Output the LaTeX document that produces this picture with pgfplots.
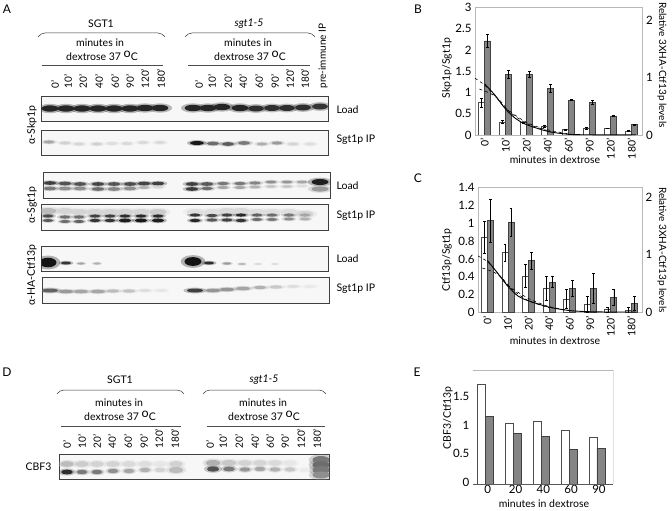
\documentclass[border=0pt]{standalone}
\usepackage{fontspec}
\setmainfont{Lato}
\usepackage{pgfplots}
\usepackage{pgfplotstable}
\pgfplotsset{compat=1.18}

% image pixels = pt here, y measured from the top in the scope below
\newcommand{\fs}{\fontsize{10.5}{12}\selectfont}
\newcommand{\tfs}{\fontsize{11.5}{13}\selectfont}
\newcommand{\degC}{\raisebox{3.5pt}{\fontsize{12.5}{12}\selectfont o}C}
\definecolor{barg}{gray}{0.52}
\definecolor{frameg}{gray}{0.72}

% --- panel B
\pgfplotstableread{
x w we g ge
0 0.76 0.10 2.21 0.15
1 0.31 0.04 1.43 0.10
2 0.29 0.02 1.42 0.07
3 0.21 0.02 1.10 0.10
4 0.13 0.01 0.82 0.01
5 0.16 0.02 0.77 0.04
6 0.16 0.01 0.45 0.01
7 0.09 0.01 0.24 0.01
}\tabB
% --- panel C
\pgfplotstableread{
x w we g ge
0 0.84 0.18 1.03 0.24
1 0.67 0.10 1.01 0.16
2 0.41 0.13 0.58 0.10
3 0.27 0.13 0.34 0.06
4 0.15 0.11 0.27 0.09
5 0.085 0.09 0.27 0.17
6 0.03 0.03 0.17 0.09
7 0.02 0.04 0.10 0.08
}\tabC
% --- panel E
\pgfplotstableread{
x w g
0 1.75 1.19
1 1.07 0.89
2 1.10 0.83
3 0.94 0.61
4 0.82 0.63
}\tabE

% --- blots: lane x, band y (image pixels), darkness, half height
\pgfplotstableread{
x y d s
50 108.5 .92 3.2
66 108.5 .92 3.2
82 108.5 .92 3.2
98 108.5 .92 3.2
114 108.5 .92 3.2
130 108.5 .92 3.2
145 108 .92 3.2
160 108 .92 3.2
193 108 .92 3.2
208 108 .92 3.2
222 107 .92 3.2
240 108 .92 3.2
256 108.5 .88 3
272 108 .88 3
287 108 .88 3
303 107.5 .88 3
320 106.5 .85 3
}\blotA
\pgfplotstableread{
x y d s
49 142 .35 1.6
65 143 .16 1.6
79 144 .13 1.6
97 144 .16 1.6
112 143.5 .1 1.6
127 143.5 .12 1.6
143 142.5 .12 1.6
160 142.5 .12 1.6
197 143 .98 2
213 143.5 .6 1.8
228 144 .68 1.8
244 143 .55 1.8
262 144 .3 1.6
277 143 .4 1.6
293 144 .14 1.6
310 144 .1 1.6
}\blotB
\pgfplotstableread{
x y d s
50 183 .8 1.8
65 183.5 .72 1.8
80 184 .72 1.8
98 184 .78 1.8
114 184 .72 1.8
130 184 .75 1.8
144 183.5 .78 1.8
158 183.5 .8 1.8
50 188.5 .55 1.8
65 188.5 .45 1.8
80 188.5 .45 1.8
98 189 .6 1.8
114 189 .5 1.8
130 188.5 .45 1.8
144 187.5 .3 1.5
158 187 .15 1.5
192 184 .8 1.8
207 184 .7 1.8
223 183.5 .55 1.6
240 183.5 .55 1.6
255 183 .5 1.6
271 182 .45 1.5
287 182 .42 1.5
302 182 .35 1.5
192 189 .82 1.8
207 188.5 .6 1.6
223 187.5 .35 1.5
240 187.5 .35 1.5
255 187 .3 1.5
271 186.5 .2 1.5
287 186.5 .2 1.5
302 186 .1 1.5
320 182 .95 3
320 189 .4 2.6
}\blotC
\pgfplotstableread{
x y d s
48 211 .25 3
65 211 .14 3
79 212 .14 3
95 212 .14 3
110 212 .14 3
125 212 .14 3
141 212 .14 3
158 212 .18 3
195 212 .1 3
212 212 .1 3
227 211 .12 3
241 211 .12 3
257 212 .1 3
272 212 .1 3
289 212 .1 3
305 214 .15 3
48 216 .75 1.6
65 217 .6 1.6
79 217 .6 1.6
95 216 .8 1.6
110 216 .8 1.6
125 216 .88 1.6
141 216 .9 1.6
158 216 .9 1.6
48 220.5 .68 1.5
65 221.5 .6 1.5
79 221.5 .65 1.5
95 220.5 .85 1.6
110 220.5 .85 1.6
125 220.5 .95 1.8
141 220.5 .98 1.8
158 220.5 .95 1.8
195 215 .85 1.6
212 215.5 .75 1.6
227 215 .8 1.6
241 215 .9 1.6
257 215 .65 1.6
272 215 .6 1.6
289 215 .55 1.6
305 215 .35 1.6
195 220.5 .9 1.6
212 220 .7 1.6
227 220 .8 1.6
241 220.5 .85 1.6
257 219.5 .6 1.5
272 219.5 .55 1.5
289 219 .45 1.5
305 219 .3 1.5
}\blotD
\pgfplotstableread{
x y d s
48 262.5 1 4.8
66 263 .85 1.5
81 263.5 .35 1.1
97 263.5 .3 1.1
193 261.5 1 4.4
209 263 .88 1.5
227 263.5 .4 1.2
242 264 .25 1.1
258 264 .12 1
275 264 .1 1
}\blotE
\pgfplotstableread{
x y d s
50 290.5 .65 2
66 291.5 .4 1.8
81 291.5 .35 1.8
98 291.5 .35 1.8
113 291 .25 1.6
129 291 .22 1.6
145 290.5 .1 1.5
161 290.5 .06 1.5
195 290.5 .8 2
213 290.5 .42 1.8
227 289.5 .42 1.8
243 288.5 .35 1.8
260 287.5 .3 1.6
276 287 .2 1.6
293 286.5 .1 1.5
310 286.5 .05 1.5
}\blotF
\pgfplotstableread{
x y d s
67 464 .25 2.8
82 464 .18 2.8
97 464 .15 2.8
113 464 .15 2.8
129 464 .12 2.8
145 464 .1 2.8
160 464 .06 2.8
176 464 .16 2.8
213 463 .3 3
229 463 .2 3
245 463 .15 2.8
260 463 .14 2.8
275 463 .12 2.8
290 463 .06 2.8
321 460 .55 4
321 465 .6 4
67 472 .88 2.4
82 472 .55 2.2
97 472 .55 2.2
113 471 .45 2.2
129 471 .35 2.2
145 470 .3 2.2
160 470 .15 2.2
176 470 .25 3
213 469 .72 2.6
229 469 .55 2.4
245 469.5 .42 2.2
260 469 .35 2.2
275 469.5 .3 2.2
290 469.5 .2 2.2
305 470 .04 2.2
321 470 .55 4
321 475 .45 3.5
}\blotG

\pgfplotsset{
  blot/.style={scale only axis, ticks=none, y dir=reverse, anchor=north west,
    clip marker paths=true,
    axis line style={black!75, line width=0.9pt},
    axis background/.style={fill=black!3},
    colormap={blot}{gray(0cm)=(0.96); gray(1cm)=(0.08)},
    point meta min=0, point meta max=1},
  chart/.style={scale only axis, anchor=north west,
    axis line style={frameg, line width=0.5pt},
    tick style={draw=none}, major tick length=0pt,
    tick label style={font=\tfs, /pgf/number format/assume math mode=true},
    ybar=0pt, bar width=6pt,
    xmin=-0.46, xmax=7.52, xtick={0,...,7},
    xticklabels={0',10',20',40',60',90',120',180'},
    xticklabel style={rotate=90, anchor=east, font=\fs},
    ymin=0},
  rightax/.style={scale only axis, anchor=north west, axis y line*=right, axis x line=none,
    axis line style={frameg, line width=0.5pt},
    tick style={draw=none}, major tick length=0pt,
    tick label style={font=\tfs, /pgf/number format/assume math mode=true},
    xmin=-0.46, xmax=7.52, ymin=0, ytick={0,1,2}},
  wbar/.style={fill=white, draw=black!70, line width=0.6pt},
  gbar/.style={fill=barg, draw=black!75, line width=0.6pt},
  errs/.style={error bars/.cd, y dir=both, y explicit,
    error bar style={black, line width=0.5pt},
    error mark options={black, line width=0.5pt, mark size=1.4pt, rotate=90}},
  band/.style args={#1/#2/#3}{scatter, only marks, mark=*, point meta=explicit,
    visualization depends on={#1*\thisrow{s}\as\ms},
    visualization depends on={min(#2,8.5/\thisrow{s})\as\xs},
    scatter/use mapped color={draw=mapped color, fill=mapped color},
    scatter/@pre marker code/.append style={/tikz/mark size=\ms pt, /tikz/xscale=\xs},
    mark options={line width=0pt, draw opacity=0, fill opacity=#3}},
}

\newcommand{\blotpanel}[6]{% x0 x1 y0 y1 table xscale
  \pgfmathsetmacro{\bw}{#2-#1}\pgfmathsetmacro{\bh}{#4-#3}
  \begin{axis}[blot, at={(#1pt,-#3pt)}, width=\bw pt, height=\bh pt,
      xmin=#1, xmax=#2, ymin=#3, ymax=#4]
    \addplot[band=1.45/#6/0.3] table[x=x, y=y, meta=d] {#5};
    \addplot[band=1/#6/1] table[x=x, y=y, meta=d] {#5};
  \end{axis}
}

\begin{document}
\begin{tikzpicture}
\path[use as bounding box] (0,0) rectangle (672pt,-511pt);

% blots
\blotpanel{41.6}{328}{96}{121}{\blotA}{2.6}
\blotpanel{41.6}{328}{130}{155.6}{\blotB}{3.4}
\blotpanel{43}{330}{172.6}{198}{\blotC}{3.6}
\blotpanel{41.6}{328}{204.7}{230.6}{\blotD}{3.4}
\blotpanel{41.6}{328}{246}{271.7}{\blotE}{3.4}
\blotpanel{42.5}{329}{277.7}{303.3}{\blotF}{4}
\blotpanel{59}{329}{454}{479.7}{\blotG}{2.4}

% B
\begin{axis}[chart, at={(475pt,-7.3pt)}, width=167.7pt, height=127.7pt,
    ymax=3, ytick={0,0.5,...,3}, yticklabels={0,0.5,1,1.5,2,2.5,3}]
  \addplot[wbar, errs] table[x=x, y=w, y error=we] {\tabB};
  \addplot[gbar, errs] table[x=x, y=g, y error=ge] {\tabB};
\end{axis}
\begin{axis}[rightax, at={(475pt,-7.3pt)}, width=167.7pt, height=127.7pt, ymax=2.228]
  \addplot[black, line width=0.9pt, smooth] coordinates {(0,0.89) (0.5,0.69) (1,0.45) (1.5,0.28) (2,0.18) (3,0.064) (4,0.012) (5,0.004) (6,0.002) (7.2,0.004)};
  \addplot[black, line width=0.6pt, dashed, smooth] coordinates {(-0.46,0.99) (0,0.87) (0.5,0.68) (1,0.47) (2,0.22) (3,0.09) (4,0.02)};
  \addplot[black, line width=0.6pt, dashed, smooth] coordinates {(-0.25,0.80) (0.3,0.72) (0.73,0.60) (1.2,0.40) (2,0.2) (3,0.075)};
\end{axis}

% C
\begin{axis}[chart, at={(478pt,-187.7pt)}, width=164pt, height=124.6pt,
    ymax=1.4, ytick={0,0.2,...,1.4}, yticklabels={0,0.2,0.4,0.6,0.8,1,1.2,1.4}]
  \addplot[wbar, errs] table[x=x, y=w, y error=we] {\tabC};
  \addplot[gbar, errs] table[x=x, y=g, y error=ge] {\tabC};
\end{axis}
\begin{axis}[rightax, at={(478pt,-187.7pt)}, width=164pt, height=124.6pt, ymax=2.167]
  \addplot[black, line width=0.9pt, smooth] coordinates {(0,0.90) (0.5,0.68) (1,0.45) (1.5,0.28) (2,0.20) (3,0.09) (4,0.03) (5,0.01) (6,0.005) (7.2,0.005)};
  \addplot[black, line width=0.6pt, dashed, smooth] coordinates {(-0.46,0.98) (0,0.88) (0.5,0.68) (1,0.47) (2,0.24) (3,0.1) (4,0.03)};
  \addplot[black, line width=0.6pt, dashed, smooth] coordinates {(-0.25,0.77) (0.3,0.70) (0.7,0.60) (1.2,0.40) (2,0.2) (3,0.08)};
\end{axis}

% E
\begin{axis}[scale only axis, anchor=north west, at={(472.7pt,-370pt)}, width=140.7pt, height=114pt,
    axis line style={draw=none},
    tick style={draw=none}, major tick length=0pt,
    tick label style={font=\tfs, /pgf/number format/assume math mode=true},
    ybar=0pt, bar width=8pt, ymin=0, ymax=2,
    xmin=-0.467, xmax=4.59, xtick={0,...,4}, xticklabels={0,20,40,60,90},
    xticklabel style={xshift=2pt, yshift=2pt},
    ytick={0,0.5,1,1.5}, yticklabels={0,0.5,1,1.5},
    yticklabel style={yshift=2pt}]
  \addplot[wbar] table[x=x, y=w] {\tabE};
  \addplot[gbar] table[x=x, y=g] {\tabE};
\end{axis}

\begin{scope}[x=1pt, y=-1pt, font=\fs, text=black]
  % frame of E
  \draw[frameg, line width=0.7pt] (473,370) -- (613,370);
  \draw[black!12, line width=0.5pt] (613,370) -- (613,484);
  \draw[black!65, line width=0.6pt] (472.7,484) -- (613,484);
  % panel letters
  \node[font=\fontsize{12}{13}\selectfont] at (7,9) {A};
  \node[font=\fontsize{12}{13}\selectfont] at (418,9) {B};
  \node[font=\fontsize{12}{13}\selectfont] at (418,178) {C};
  \node[font=\fontsize{12}{13}\selectfont] at (7,372) {D};
  \node[font=\fontsize{12}{13}\selectfont] at (417,372) {E};

  % A header
  \node at (101,24) {SGT1};
  \node at (249,24) {\itshape sgt1-5};
  \draw[black!80, line width=0.5pt, rounded corners=4pt] (38,37) -- (41,33) -- (162,33) -- (165,37);
  \draw[black!80, line width=0.5pt, rounded corners=4pt] (185,37) -- (188,33) -- (312,33) -- (315,37);
  \node at (100,43) {minutes in};
  \node at (248,43) {minutes in};
  \node at (102,56) {dextrose 37 \degC};
  \node at (250,56) {dextrose 37 \degC};
  \draw[black!70, line width=0.7pt] (42,65.5) -- (163,65.5);
  \draw[black!70, line width=0.7pt] (188,65.5) -- (310,65.5);
  \foreach \x/\t in {55/0',68/10',83/20',99/40',115/60',130/90',145/120',161/180',199/0',212/10',228/20',243/40',259/60',275/90',290/120',305/180',323/pre-immune IP}
    \node[rotate=90, anchor=west, font=\fontsize{10}{11}\selectfont] at (\x,92) {\t};
  \foreach \y/\t in {110/Load,140/Sgt1p IP,186/Load,216/Sgt1p IP,259/Load,289/Sgt1p IP}
    \node[anchor=west] at (333,\y) {\t};
  \node[rotate=90] at (32,125) {α-Skp1p};
  \node[rotate=90] at (32,205) {α-Sgt1p};
  \node[rotate=90] at (32,275) {α-HA-Ctf13p};

  % D header
  \node at (120,380) {SGT1};
  \node at (264,380) {\itshape sgt1-5};
  \draw[black!80, line width=0.5pt, rounded corners=4pt] (57,394) -- (60,390) -- (181,390) -- (184,394);
  \draw[black!80, line width=0.5pt, rounded corners=4pt] (203,394) -- (206,390) -- (323,390) -- (326,394);
  \node at (119,403) {minutes in};
  \node at (263,403) {minutes in};
  \node at (120,416) {dextrose 37 \degC};
  \node at (264,416) {dextrose 37 \degC};
  \draw[black!70, line width=0.7pt] (61,426.5) -- (181,426.5);
  \draw[black!70, line width=0.7pt] (207,426.5) -- (325,426.5);
  \foreach \x/\t in {67/0',82/10',97/20',112/40',128/60',144/90',159/120',175/180',210/0',223/10',239/20',255/40',270/60',285/90',301/120',317/180'}
    \node[rotate=90, anchor=west, font=\fontsize{10}{11}\selectfont] at (\x,452) {\t};
  \node[anchor=east] at (55,467) {CBF3};

  % chart titles
  \node[rotate=90] at (447,68) {Skp1p/Sgt1p};
  \node[rotate=-90, font=\fontsize{10}{11}\selectfont] at (662,65) {Relative 3XHA-Ctf13p levels};
  \node at (555,160) {minutes in dextrose};
  \node[rotate=90] at (447,260) {Ctf13p/Sgt1p};
  \node[rotate=-90, font=\fontsize{10}{11}\selectfont] at (662,250) {Relative 3XHA-Ctf13p levels};
  \node at (555,341) {minutes in dextrose};
  \node[rotate=90] at (448,418) {CBF3/Ctf13p};
  \node at (544,504) {minutes in dextrose};
\end{scope}
\end{tikzpicture}
\end{document}
